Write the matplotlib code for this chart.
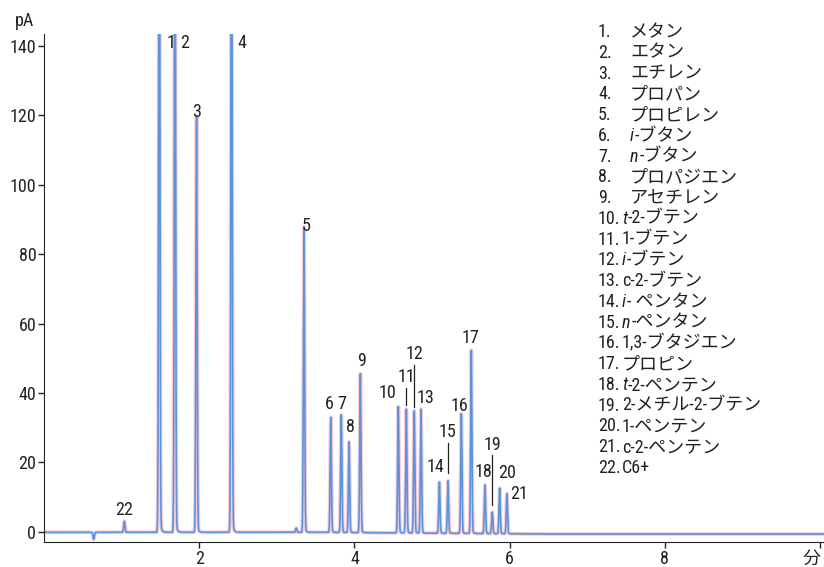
import numpy as np
import matplotlib
matplotlib.use("Agg")
import matplotlib.pyplot as plt
from matplotlib import font_manager

# ---- fonts: condensed latin + japanese fallback ----
installed = {f.name for f in font_manager.fontManager.ttflist}
latin = "Liberation Sans"
for cand in ["Roboto Condensed", "Archivo Narrow", "PT Sans Narrow",
             "Liberation Sans Narrow", "Barlow Condensed", "Fira Sans Condensed"]:
    if cand in installed:
        latin = cand
        break
plt.rcParams["font.family"] = [latin, "Noto Sans CJK JP", "DejaVu Sans"]

# ---- peak table (retention time in min, height in pA) ----
peak_ids = ["1", "2", "3", "4", "5", "6", "7", "8", "9", "10", "11",
            "12", "13", "14", "15", "16", "17", "18", "19", "20", "21", "22"]
peak_rt = [1.485, 1.687, 1.965, 2.416, 3.35, 3.695, 3.83, 3.93, 4.076, 4.565, 4.668,
           4.77, 4.857, 5.094, 5.205, 5.377, 5.505, 5.681, 5.775, 5.87, 5.964, 1.035]
# peaks 1, 2 and 4 run off scale
peak_height = [210, 200, 117.5, 205, 85.5, 32.4, 33.0, 25.6, 44.7, 35.4, 34.8,
               34.2, 34.8, 14.4, 14.7, 33.5, 51.7, 13.7, 6.0, 12.8, 11.2, 3.1]
# small baseline disturbances (not numbered)
blip_rt = [0.64, 3.25]
blip_height = [-2.0, 1.2]

# ---- compound names for the legend block ----
names = [("", "メタン"), ("", "エタン"), ("", "エチレン"), ("", "プロパン"),
         ("", "プロピレン"), ("i", "-ブタン"), ("n", "-ブタン"), ("", "プロパジエン"),
         ("", "アセチレン"), ("t", "-2-ブテン"), ("", "1-ブテン"), ("i", "-ブテン"),
         ("", "c-2-ブテン"), ("i", "- ペンタン"), ("n", "-ペンタン"), ("", "1,3-ブタジエン"),
         ("", "プロピン"), ("t", "-2-ペンテン"), ("", "2-メチル-2-ブテン"), ("", "1-ペンテン"),
         ("", "c-2-ペンテン"), ("", "C6+")]

# label anchor points (data coords) and leader lines
label_xy = [(1.64, 141.0), (1.807, 141.0), (1.96, 121.0), (2.553, 140.8), (3.377, 88.1),
            (3.673, 36.8), (3.84, 36.8), (3.952, 30.2), (4.089, 49.3), (4.42, 40.0),
            (4.664, 44.5), (4.771, 51.2), (4.921, 38.4), (5.046, 18.7), (5.196, 28.6),
            (5.359, 36.3), (5.497, 55.7), (5.66, 17.3), (5.784, 25.0), (5.968, 16.8),
            (6.118, 10.9), (1.035, 6.3)]
leaders = {"11": (41.4, 36.5), "12": (48.0, 35.9), "15": (25.6, 16.9), "19": (22.1, 7.7)}

# ---- build trace ----
t = np.linspace(0, 10.05, 10000)
y = np.full_like(t, -0.2)
y -= 0.5 * np.clip((t - 3.5) / 3.0, 0, 1)
for rt, h in zip(peak_rt + blip_rt, peak_height + blip_height):
    s = 0.008
    core = np.exp(-0.5 * ((t - rt) / s) ** 2)
    tail = np.where(t > rt, np.exp(-(t - rt) / 0.015), 0) * 0.03
    y += h * (core + tail)

fig = plt.figure(figsize=(8.24, 5.67), dpi=100)
ax = fig.add_axes([0.0534, 0.0441, 0.9466, 0.896])

ax.plot(t, y, color="#f4c2cd", lw=2.8, alpha=0.8)
ax.plot(t, y, color="#5b93df", lw=1.2)

ax.set_xlim(0, 10.05)
ax.set_ylim(-3, 143.5)
ax.set_xticks([2, 4, 6, 8, 10])
ax.set_xticklabels(["2", "4", "6", "8", "分"])
ax.get_xticklabels()[-1].set_horizontalalignment("right")
ax.set_yticks(range(0, 141, 20))
for sp in ["top", "right"]:
    ax.spines[sp].set_visible(False)
ax.spines["left"].set_color("#222222")
ax.spines["bottom"].set_color("#222222")
ax.tick_params(labelsize=13, length=4, width=1, pad=1.5, colors="#222222")

fig.text(0.030, 0.963, "pA", fontsize=13, ha="center", va="center", color="#222222")

for pid, (lx, ly) in zip(peak_ids, label_xy):
    ax.text(lx, ly, pid, fontsize=13, ha="center", va="center", color="#222222")
for pid, (y0, y1) in leaders.items():
    i = peak_ids.index(pid)
    ax.plot([peak_rt[i], peak_rt[i]], [y0, y1], color="#222222", lw=0.9)

# legend block at upper right
y_top = 1 - 37 / 567
dy = 20.76 / 567
for k, (pre, rest) in enumerate(names):
    yy = y_top - k * dy
    fig.text(598 / 824, yy, f"{k + 1}.", fontsize=13, va="baseline", color="#222222")
    x_name = 630 / 824 if k < 9 else 622 / 824
    if pre:
        tp = fig.text(x_name, yy, pre, fontsize=13, style="italic", va="baseline", color="#222222")
        ax.annotate(rest, xy=(1, 0), xycoords=tp, xytext=(0.5, 0), textcoords="offset points",
                    fontsize=13, va="bottom", ha="left", color="#222222", annotation_clip=False)
    else:
        fig.text(x_name, yy, rest, fontsize=13, va="baseline", color="#222222")

fig.savefig("out.png", dpi=100)
